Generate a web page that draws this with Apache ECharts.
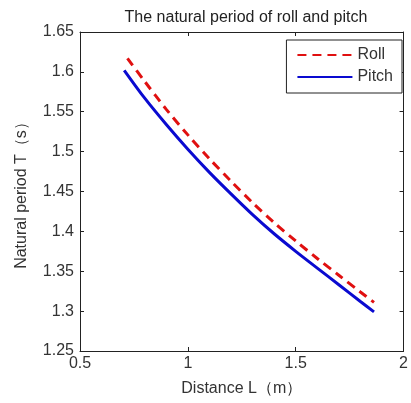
<!DOCTYPE html>
<html><head><meta charset="utf-8">
<script src="https://cdn.jsdelivr.net/npm/echarts@6/dist/echarts.min.js"></script>
<style>html,body{margin:0;padding:0;background:#fff}#c{width:411px;height:403px}</style>
</head><body><div id="c"></div>
<script>
var titleText = 'The natural period of roll and pitch';
var xName = 'Distance L\uff08m\uff09';
var yName = 'Natural period T\uff08s\uff09';
var seriesNames = ['Roll', 'Pitch'];
var rollX = [0.72, 0.8, 0.9, 1.0, 1.1, 1.2, 1.3, 1.4, 1.5, 1.6, 1.7, 1.8, 1.863];
var rollY = [1.617, 1.588, 1.553, 1.521, 1.491, 1.463, 1.436, 1.411, 1.388, 1.366, 1.345, 1.324, 1.311];
var pitchX = [0.705, 0.8, 0.9, 1.0, 1.1, 1.2, 1.3, 1.4, 1.5, 1.6, 1.7, 1.8, 1.863];
var pitchY = [1.602, 1.567, 1.534, 1.503, 1.474, 1.447, 1.421, 1.397, 1.375, 1.354, 1.333, 1.312, 1.299];
var xTicks = [0.5, 1, 1.5, 2];
var yTicks = [1.25, 1.3, 1.35, 1.4, 1.45, 1.5, 1.55, 1.6, 1.65];

function pairs(xs, ys){ return xs.map(function(x,i){ return [x, ys[i]]; }); }
var font = 'Liberation Sans, Arial, sans-serif';
var txt = '#333';
var axisCommon = {
  axisLine: {show: true, onZero: false, lineStyle: {color: '#222', width: 1}},
  axisTick: {show: true, inside: true, length: 4, lineStyle: {color: '#222'}},
  splitLine: {show: false}
};
var chart = echarts.init(document.getElementById('c'), null, {renderer: 'canvas'});
chart.setOption({
  animation: false,
  backgroundColor: '#fff',
  title: {text: titleText, left: 241, top: 5, textAlign: 'center',
    textStyle: {fontFamily: font, fontSize: 16, fontWeight: 'normal', color: '#222'}},
  legend: {
    data: seriesNames, right: 9, top: 40, orient: 'vertical',
    itemWidth: 55, itemHeight: 14, itemGap: 6,
    padding: [7, 9, 8, 10],
    borderColor: '#222', borderWidth: 1, backgroundColor: '#fff',
    itemStyle: {opacity: 0},
    textStyle: {fontFamily: font, fontSize: 16, color: txt}
  },
  grid: {left: 80, right: 2, top: 32, bottom: 52, containLabel: false},
  xAxis: [
    Object.assign({type: 'value', min: xTicks[0], max: xTicks[xTicks.length-1], interval: 0.5,
      name: xName, nameLocation: 'middle', nameGap: 30,
      nameTextStyle: {fontFamily: font, fontSize: 16, color: txt},
      axisLabel: {fontFamily: font, fontSize: 16, color: txt, margin: 5}}, axisCommon),
    Object.assign({type: 'value', position: 'top', min: xTicks[0], max: xTicks[xTicks.length-1], interval: 0.5,
      axisLabel: {show: false}}, axisCommon)
  ],
  yAxis: [
    Object.assign({type: 'value', min: yTicks[0], max: yTicks[yTicks.length-1], interval: 0.05,
      name: yName, nameLocation: 'middle', nameGap: 50,
      nameTextStyle: {fontFamily: font, fontSize: 16, color: txt},
      axisLabel: {fontFamily: font, fontSize: 16, color: txt, margin: 6,
        formatter: function(v){ return String(Math.round(v*100)/100); }}}, axisCommon),
    Object.assign({type: 'value', position: 'right', min: yTicks[0], max: yTicks[yTicks.length-1], interval: 0.05,
      axisLabel: {show: false}}, axisCommon)
  ],
  series: [
    {name: seriesNames[0], type: 'line', data: pairs(rollX, rollY), smooth: 0.3, symbol: 'none',
      itemStyle: {color: '#e01010'},
      lineStyle: {color: '#e01010', width: 3, type: [9, 6]}},
    {name: seriesNames[1], type: 'line', data: pairs(pitchX, pitchY), smooth: 0.3, symbol: 'none',
      itemStyle: {color: '#0a0ad0'},
      lineStyle: {color: '#0a0ad0', width: 3}}
  ]
});
</script></body></html>
